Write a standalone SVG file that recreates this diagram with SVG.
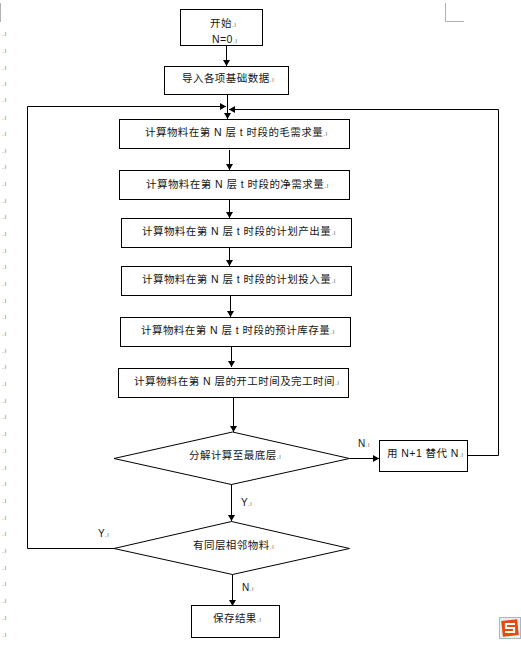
<svg xmlns="http://www.w3.org/2000/svg" width="521" height="647" viewBox="0 0 521 647">
<style>
.b{fill:#fff;stroke:#000;stroke-width:1}
.c{fill:none;stroke:#000;stroke-width:1}
text{font-family:"Liberation Sans","Noto Sans CJK SC",sans-serif;font-size:10.5px;letter-spacing:.45px;fill:#151515}
tspan{font-size:7px;fill:#777;letter-spacing:.5px}
.m{fill:#888;font-size:7px;letter-spacing:.6px}
.l{font-size:10px;letter-spacing:0}
</style>
<defs><marker id="a" markerUnits="userSpaceOnUse" markerWidth="7" markerHeight="7" refX="6" refY="3.500" orient="auto"><path d="M0 0L6 3.500L0 7Z" fill="#000"/></marker></defs>
<rect width="521" height="647" fill="#fff"/>
<g id="crop" fill="none" stroke="#b0b0b0"><path d="M445.500 3V21.500H464"/><path d="M.5 3V22"/></g>
<g id="connectors">
<path class="c" marker-end="url(#a)" d="M226.500 46V66"/>
<path class="c" marker-end="url(#a)" d="M227.500 94V119"/>
<path class="c" marker-end="url(#a)" d="M27.500 507.500V106.500H226"/>
<path class="c" marker-end="url(#a)" d="M468 455.500H498.500V109.500H229"/>
<path class="c" marker-end="url(#a)" d="M229.500 150V170"/>
<path class="c" marker-end="url(#a)" d="M229.500 199V218"/>
<path class="c" marker-end="url(#a)" d="M229.500 248V266"/>
<path class="c" marker-end="url(#a)" d="M230.500 296V317"/>
<path class="c" marker-end="url(#a)" d="M231.500 346V367"/>
<path class="c" marker-end="url(#a)" d="M233.500 398V432"/>
<path class="c" marker-end="url(#a)" d="M350 458.500H379"/>
<path class="c" marker-end="url(#a)" d="M231.500 484V521"/>
<path class="c" d="M114 548.500H27.500V507"/>
<path class="c" marker-end="url(#a)" d="M232.500 574V606"/>
</g>
<g id="n1"><rect class="b" x="180.500" y="9.500" width="82" height="36"/><text x="210" y="27">开始<tspan>.ı</tspan></text><text x="212" y="43">N=0<tspan>.ı</tspan></text></g>
<g id="n2"><rect class="b" x="164.500" y="66.500" width="124" height="28"/><text x="182" y="82">导入各项基础数据<tspan>.ı</tspan></text></g>
<g id="n3"><rect class="b" x="119.500" y="119.500" width="230" height="29"/><text x="145" y="136">计算物料在第 N 层 t 时段的毛需求量<tspan>.ı</tspan></text></g>
<g id="n4"><rect class="b" x="119.500" y="170.500" width="230" height="29"/><text x="146" y="188">计算物料在第 N 层 t 时段的净需求量<tspan>.ı</tspan></text></g>
<g id="n5"><rect class="b" x="121.500" y="218.500" width="230" height="29"/><text x="142" y="235">计算物料在第 N 层 t 时段的计划产出量<tspan>.ı</tspan></text></g>
<g id="n6"><rect class="b" x="121.500" y="266.500" width="230" height="29"/><text x="142" y="283">计算物料在第 N 层 t 时段的计划投入量<tspan>.ı</tspan></text></g>
<g id="n7"><rect class="b" x="120.500" y="317.500" width="230" height="29"/><text x="141" y="334">计算物料在第 N 层 t 时段的预计库存量<tspan>.ı</tspan></text></g>
<g id="n8"><rect class="b" x="118.500" y="368.500" width="230" height="29"/><text x="134" y="385">计算物料在第 N 层的开工时间及完工时间<tspan>.ı</tspan></text></g>
<g id="d1"><path class="b" d="M114 458.500L232.500 432L349.500 458.500L231.500 484.500Z"/><text x="189" y="459">分解计算至最底层<tspan>.ı</tspan></text></g>
<g id="n9"><rect class="b" x="379.500" y="440.500" width="88" height="31"/><text x="387" y="457">用 N+1 替代 N<tspan>.ı</tspan></text></g>
<g id="d2"><path class="b" d="M114 548.500L231.500 521.500L349.500 548.500L232.500 574.500Z"/><text x="193" y="549">有同层相邻物料<tspan>.ı</tspan></text></g>
<g id="n10"><rect class="b" x="191.500" y="605.500" width="88" height="32"/><text x="213" y="622">保存结果<tspan>.ı</tspan></text></g>
<g id="labels"><text class="l" x="358" y="447">N<tspan>.ı</tspan></text><text class="l" x="241" y="506">Y<tspan>.ı</tspan></text><text class="l" x="98" y="537">Y<tspan>.ı</tspan></text><text class="l" x="242" y="591">N<tspan>.ı</tspan></text></g>
<g id="margin"><text class="m" x="2" y="36">.ı</text><text class="m" x="2" y="53">.ı</text><text class="m" x="2" y="70">.ı</text><text class="m" x="2" y="86">.ı</text><text class="m" x="2" y="102">.ı</text><text class="m" x="2" y="120">.ı</text><text class="m" x="2" y="136">.ı</text><text class="m" x="2" y="153">.ı</text><text class="m" x="2" y="169">.ı</text><text class="m" x="2" y="186">.ı</text><text class="m" x="2" y="203">.ı</text><text class="m" x="2" y="219">.ı</text><text class="m" x="2" y="236">.ı</text><text class="m" x="2" y="253">.ı</text><text class="m" x="2" y="269">.ı</text><text class="m" x="2" y="286">.ı</text><text class="m" x="2" y="303">.ı</text><text class="m" x="2" y="319">.ı</text><text class="m" x="2" y="336">.ı</text><text class="m" x="2" y="353">.ı</text><text class="m" x="2" y="369">.ı</text><text class="m" x="2" y="386">.ı</text><text class="m" x="2" y="403">.ı</text><text class="m" x="2" y="419">.ı</text><text class="m" x="2" y="436">.ı</text><text class="m" x="2" y="453">.ı</text><text class="m" x="2" y="470">.ı</text><text class="m" x="2" y="486">.ı</text><text class="m" x="2" y="503">.ı</text><text class="m" x="2" y="520">.ı</text><text class="m" x="2" y="536">.ı</text><text class="m" x="2" y="553">.ı</text><text class="m" x="2" y="570">.ı</text><text class="m" x="2" y="586">.ı</text><text class="m" x="2" y="603">.ı</text><text class="m" x="2" y="620">.ı</text><text class="m" x="2" y="637">.ı</text></g>
<g id="logo"><rect x="499.500" y="617.500" width="21" height="21" fill="#e8eef0" stroke="#a9b8c0"/><rect x="502" y="620" width="16" height="16" fill="#e8490f" transform="rotate(-6 510 628)"/><path d="M515 624H506V628H514V632H505" fill="none" stroke="#fff" stroke-width="2.200"/></g>
</svg>
